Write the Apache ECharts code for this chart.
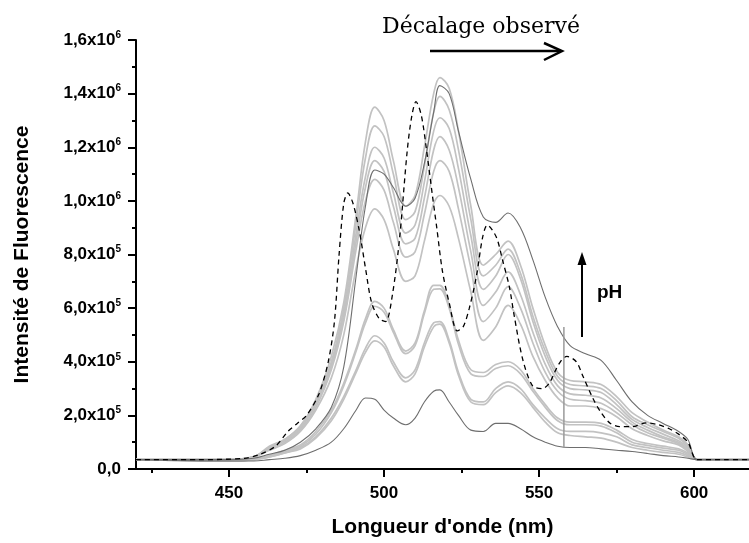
<!DOCTYPE html>
<html><head><meta charset="utf-8">
<script src="https://cdn.jsdelivr.net/npm/echarts@6/dist/echarts.min.js"></script>
<style>html,body{margin:0;padding:0;background:#fff}#c{width:749px;height:543px}</style>
</head><body><div id="c"></div>
<script>
// wavelength grid (nm) for the pH-series spectra
const wl = [420,450,458,463,468,473,478,483,487,491,494,497,500,503,507,510,513,516,518,521,524,528,532,536,540,544,548,552,556,560,565,570,575,580,585,590,595,598,601,610,618];
// intensities in units of 1e6
const L1 = [.035,.035,.045,.08,.11,.16,.26,.42,.62,.95,1.22,1.35,1.30,1.15,.98,1.02,1.20,1.40,1.46,1.42,1.26,.98,.76,.80,.85,.76,.60,.46,.36,.33,.325,.315,.27,.21,.175,.145,.12,.09,.035,.035,.035];
const L2 = [.035,.035,.045,.085,.11,.16,.25,.40,.60,.92,1.16,1.28,1.24,1.10,.93,.96,1.13,1.33,1.39,1.34,1.19,.93,.72,.76,.82,.73,.57,.44,.345,.315,.31,.30,.255,.195,.165,.14,.115,.085,.035,.035,.035];
const L3 = [.035,.035,.045,.08,.11,.155,.25,.39,.58,.88,1.09,1.20,1.16,1.03,.88,.91,1.07,1.26,1.31,1.27,1.12,.87,.67,.72,.80,.71,.55,.42,.33,.30,.295,.285,.24,.185,.155,.13,.105,.08,.035,.035,.035];
const L4 = [.035,.035,.045,.08,.105,.15,.24,.38,.56,.85,1.05,1.15,1.11,.98,.84,.86,1.01,1.19,1.24,1.19,1.05,.81,.61,.66,.735,.65,.51,.39,.31,.28,.275,.265,.225,.175,.145,.12,.10,.075,.035,.035,.035];
const L5 = [.035,.035,.045,.075,.10,.145,.23,.37,.55,.82,1.00,1.08,1.04,.92,.79,.81,.95,1.11,1.15,1.11,.97,.75,.55,.60,.68,.60,.47,.36,.29,.26,.255,.245,.21,.165,.135,.115,.095,.07,.035,.035,.035];
const L6 = [.035,.035,.045,.07,.095,.14,.22,.34,.50,.75,.90,.97,.93,.82,.70,.72,.85,.99,1.02,.98,.86,.66,.48,.53,.61,.54,.42,.33,.265,.235,.235,.225,.195,.15,.125,.105,.09,.065,.035,.035,.035];
const L7 = [.035,.03,.035,.05,.07,.09,.14,.22,.32,.45,.56,.625,.60,.52,.44,.47,.59,.685,.685,.61,.48,.37,.36,.39,.40,.37,.30,.24,.19,.175,.175,.17,.145,.11,.095,.085,.075,.06,.035,.035,.035];
const L8 = [.035,.03,.035,.05,.065,.085,.13,.21,.31,.44,.545,.607,.585,.51,.43,.46,.58,.67,.672,.60,.465,.355,.345,.375,.385,.355,.29,.23,.18,.165,.165,.16,.135,.10,.088,.078,.07,.055,.035,.035,.035];
const L9 = [.035,.03,.035,.045,.06,.08,.12,.19,.27,.37,.45,.497,.47,.40,.34,.37,.47,.545,.55,.48,.36,.26,.25,.30,.325,.30,.24,.19,.15,.14,.14,.135,.12,.09,.08,.07,.062,.05,.035,.035,.035];
const L10 = [.035,.03,.035,.045,.06,.075,.115,.18,.26,.36,.435,.478,.455,.385,.325,.355,.455,.53,.54,.47,.35,.25,.24,.285,.31,.285,.23,.175,.135,.125,.12,.115,.10,.08,.07,.062,.055,.045,.035,.035,.035];
const D1 = [.035,.035,.04,.055,.07,.10,.15,.23,.38,.72,.98,1.115,1.10,1.05,.98,1.01,1.14,1.33,1.43,1.40,1.26,1.08,.94,.92,.955,.90,.78,.64,.53,.46,.43,.405,.33,.25,.20,.17,.14,.11,.035,.035,.035];
const D2 = [.035,.03,.03,.035,.04,.05,.07,.10,.15,.22,.265,.26,.22,.19,.165,.19,.25,.29,.295,.25,.20,.145,.14,.17,.17,.15,.12,.10,.085,.08,.08,.075,.07,.065,.058,.05,.045,.04,.035,.035,.035];
// dashed reference spectrum
const wlDash = [420,440,455,460,465,469,472,475,479,482,484,485.5,487,488.3,490,492,494,496,498.5,500.5,502.7,505,507.5,509,510.3,512,513.7,515.6,517,518.8,521,523.6,525.5,527.5,529.8,531.8,533.3,536.2,538.2,540.4,542,544.7,547.9,551,553.3,555.6,557.5,559,562,564,567.3,570,573,576,580,584.5,588.5,592,595,598,601,610,618];
const dashVals = [.035,.035,.04,.055,.085,.14,.17,.20,.28,.40,.55,.80,.99,1.03,.99,.89,.75,.62,.56,.55,.65,.86,1.19,1.32,1.37,1.32,1.19,1.02,.90,.74,.62,.515,.53,.60,.72,.865,.91,.865,.78,.68,.57,.41,.31,.30,.32,.375,.41,.42,.40,.35,.265,.21,.17,.158,.158,.172,.165,.15,.13,.10,.035,.035,.035];
// artefact spike
const spikeX = [558, 558];
const spikeY = [0.53, 0.08];
// axis ticks
const xMajor = [450, 500, 550, 600];
const xMinor = [425, 475, 525, 575];
const SCALE = 1e6;

function pairs(xs, ys) { const n = Math.min(xs.length, ys.length); const out = []; for (let i = 0; i < n; i++) out.push([xs[i], ys[i] * SCALE]); return out; }

const FONT = '"Liberation Sans", Arial, sans-serif';
const lightSeries = [L1, L2, L3, L4, L5, L6, L7, L8, L9, L10].map(arr => ({
  type: 'line', data: pairs(wl, arr), symbol: 'none', smooth: 0.35,
  lineStyle: { color: '#c2c2c2', width: 1.7 }, z: 2, silent: true
}));
const darkSeries = [D1, D2].map(arr => ({
  type: 'line', data: pairs(wl, arr), symbol: 'none', smooth: 0.35,
  lineStyle: { color: '#6e6e6e', width: 1.1 }, z: 3, silent: true
}));

const chart = echarts.init(document.getElementById('c'), null, { renderer: 'canvas' });
chart.setOption({
  animation: false,
  backgroundColor: '#fff',
  grid: { left: 136, right: 0, top: 40, bottom: 67, containLabel: false },
  xAxis: [{
    type: 'value', min: 420, max: 617.7,
    name: "Longueur d'onde (nm)", nameLocation: 'middle', nameGap: 48,
    nameTextStyle: { fontFamily: FONT, fontWeight: 'bold', fontSize: 21, color: '#000' },
    axisLine: { show: true, onZero: false, lineStyle: { color: '#000', width: 2 } },
    axisTick: { show: true, inside: false, length: 8, lineStyle: { color: '#000', width: 2 }, customValues: xMajor },
    axisLabel: { show: true, margin: 16, customValues: xMajor, fontFamily: FONT, fontWeight: 'bold', fontSize: 17, color: '#000' },
    splitLine: { show: false }
  }, {
    type: 'value', min: 420, max: 617.7, position: 'bottom',
    axisLine: { show: false },
    axisTick: { show: true, inside: false, length: 4, lineStyle: { color: '#000', width: 2 }, customValues: xMinor },
    axisLabel: { show: false }, splitLine: { show: false }
  }],
  yAxis: {
    type: 'value', min: 0, max: 1.6e6, interval: 2e5,
    name: 'Intensité de Fluorescence', nameLocation: 'middle', nameGap: 103, nameRotate: 90,
    nameTextStyle: { fontFamily: FONT, fontWeight: 'bold', fontSize: 21, color: '#000' },
    axisLine: { show: true, lineStyle: { color: '#000', width: 2 } },
    axisTick: { show: true, inside: false, length: 8, lineStyle: { color: '#000', width: 2 } },
    minorTick: { show: true, splitNumber: 2, length: 4, lineStyle: { color: '#000', width: 2 } },
    splitLine: { show: false }, minorSplitLine: { show: false },
    axisLabel: {
      margin: 15,
      formatter: function (v) {
        if (v === 0) return '{m|0,0}';
        const e = v >= 1e6 ? 6 : 5;
        const m = (v / Math.pow(10, e)).toFixed(1).replace('.', ',');
        return '{m|' + m + 'x10}{e|' + e + '}';
      },
      rich: {
        m: { fontFamily: FONT, fontWeight: 'bold', fontSize: 17, color: '#000' },
        e: { fontFamily: FONT, fontWeight: 'bold', fontSize: 10, color: '#000', verticalAlign: 'top', padding: [0, 0, 10, 0] }
      }
    }
  },
  series: [
    ...lightSeries,
    ...darkSeries,
    { type: 'line', data: pairs(wlDash, dashVals), symbol: 'none', smooth: 0.3,
      lineStyle: { color: '#000', width: 1.3, type: [5, 4] }, z: 4, silent: true },
    { type: 'line', data: pairs(spikeX, spikeY), symbol: 'none',
      lineStyle: { color: '#9a9a9a', width: 1.5 }, z: 5, silent: true }
  ],
  graphic: [
    { type: 'text', left: 382, top: 16, style: { text: 'Décalage observé', font: '22px "DejaVu Serif", "Liberation Serif", serif', fill: '#000' } },
    { type: 'polyline', shape: { points: [[430, 51], [561, 51]] }, style: { stroke: '#000', lineWidth: 2.5, fill: null } },
    { type: 'polyline', shape: { points: [[544, 43], [562, 51], [544, 60]] }, style: { stroke: '#000', lineWidth: 2.5, fill: null } },
    { type: 'polyline', shape: { points: [[582, 337], [582, 262]] }, style: { stroke: '#000', lineWidth: 2, fill: null } },
    { type: 'polygon', shape: { points: [[577.5, 265], [582, 252], [586.5, 265]] }, style: { fill: '#000' } },
    { type: 'text', left: 597, top: 283, style: { text: 'pH', font: 'bold 19px "Liberation Sans", Arial, sans-serif', fill: '#000' } }
  ]
});
</script>
</body></html>
